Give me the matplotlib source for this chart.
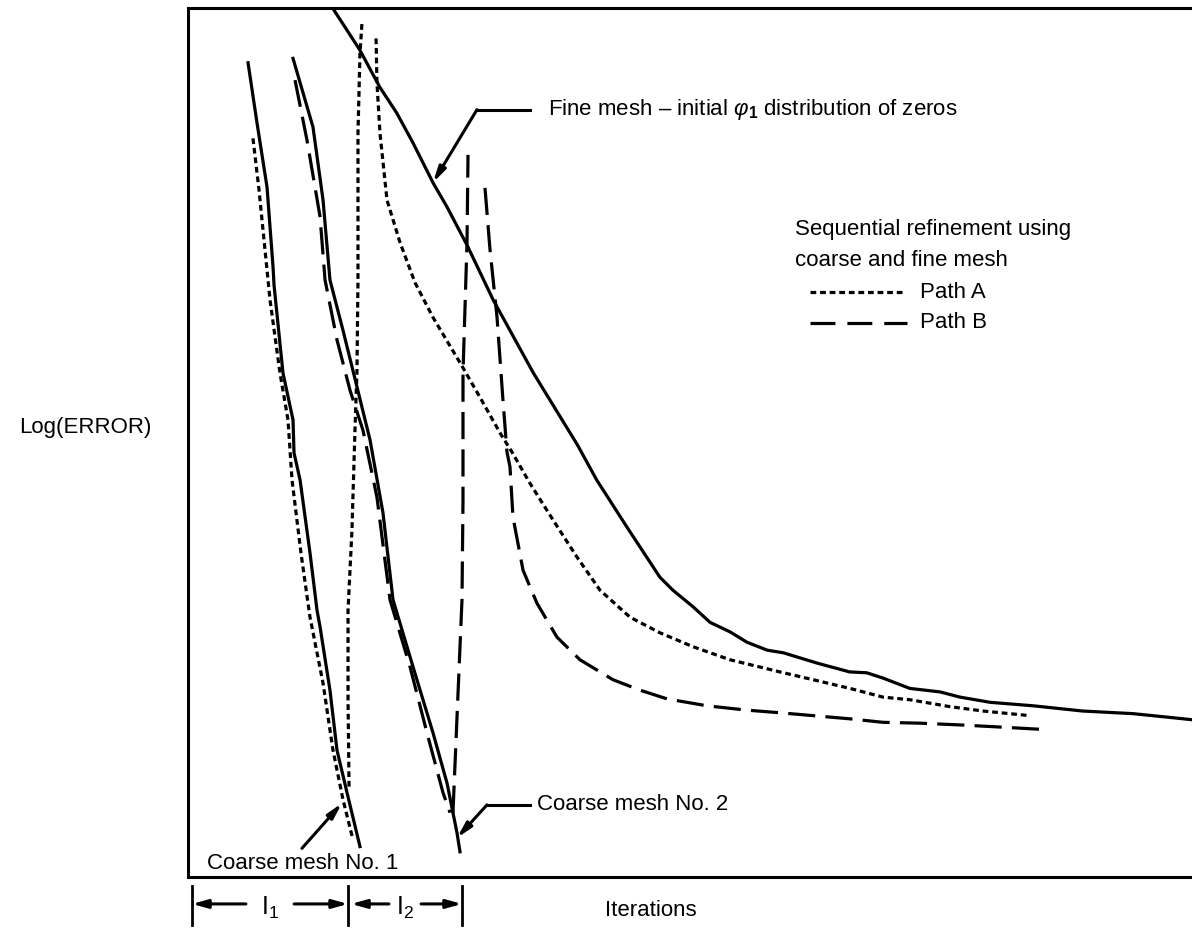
import matplotlib
matplotlib.use('Agg')
import matplotlib.pyplot as plt
import numpy as np

plt.rcParams['font.family'] = ['Liberation Sans', 'DejaVu Sans']
plt.rcParams['mathtext.fontset'] = 'custom'
plt.rcParams['mathtext.rm'] = 'Liberation Sans'
plt.rcParams['mathtext.it'] = 'Liberation Sans:italic'
plt.rcParams['mathtext.bf'] = 'Liberation Sans:bold'
plt.rcParams['lines.solid_joinstyle'] = 'round'
plt.rcParams['lines.dash_joinstyle'] = 'round'

# === DATA (iterations, log error) ===
fine_x = [14.4, 17.1, 19.1, 20.8, 22.4, 24.4, 25.8, 27.8, 30.4, 34.4, 38.8, 40.7, 43.7,
          47.0, 48.3, 50.3, 52.0, 54.0, 55.7, 57.7, 59.3, 62.7, 65.9, 67.6, 69.2, 71.9,
          74.9, 76.9, 79.9, 84.2, 89.1, 94.1, 97.5, 100.0]
fine_y = [10.0, 9.52, 9.09, 8.79, 8.45, 7.99, 7.71, 7.27, 6.64, 5.80, 4.97, 4.57, 4.03,
          3.45, 3.30, 3.11, 2.93, 2.82, 2.70, 2.61, 2.58, 2.46, 2.36, 2.35, 2.29, 2.17,
          2.13, 2.07, 2.01, 1.97, 1.91, 1.88, 1.84, 1.81]

coarse1_x = [5.98, 6.87, 7.87, 8.47, 8.57, 9.46, 10.46, 10.56, 11.16, 12.15, 12.85, 13.15,
             14.14, 14.84, 15.84, 17.13]
coarse1_y = [9.37, 8.68, 7.94, 7.02, 6.81, 5.80, 5.26, 4.88, 4.57, 3.73, 3.07, 2.88,
             2.15, 1.46, 0.97, 0.35]

coarse2_x = [10.46, 12.45, 13.45, 14.14, 15.44, 16.83, 18.13, 19.42, 20.42, 22.41, 24.40,
             25.80, 26.79, 27.09]
coarse2_y = [9.42, 8.63, 7.79, 6.87, 6.29, 5.64, 5.03, 4.19, 3.19, 2.42, 1.66,
             1.08, 0.51, 0.29]

# Path A: coarse mesh No. 1 part, jump to fine mesh, fine mesh part
pa_coarse_x = [6.47, 7.07, 7.77, 8.17, 9.16, 9.96, 10.36, 11.25, 12.15, 13.45, 14.44, 15.44, 16.43]
pa_coarse_y = [8.50, 7.91, 7.10, 6.64, 5.80, 5.26, 4.57, 3.73, 2.99, 2.23, 1.46, 0.89, 0.43]
pa_jump_x = [16.04, 15.94, 15.94, 16.33, 16.63, 16.83, 16.93, 16.93, 16.93, 17.13, 17.33]
pa_jump_y = [1.04, 2.04, 3.07, 3.99, 5.14, 5.83, 6.87, 7.79, 8.56, 9.48, 9.83]
pa_fine_x = [18.73, 18.82, 19.12, 19.82, 21.12, 22.61, 24.40, 27.39, 29.08, 31.08, 32.27,
             34.06, 36.35, 38.75, 41.04, 44.02, 47.01, 50.30, 53.98, 58.96, 65.94, 69.22,
             71.91, 75.90, 79.18, 83.57]
pa_fine_y = [9.65, 9.14, 8.56, 7.79, 7.30, 6.84, 6.44, 5.86, 5.52, 5.11, 4.89,
             4.53, 4.11, 3.68, 3.30, 2.99, 2.81, 2.65, 2.50, 2.36, 2.17, 2.07,
             2.04, 1.96, 1.91, 1.86]

# Path B: coarse mesh No. 2 part, jump, fine mesh part
pb_coarse_x = [10.66, 11.85, 13.15, 13.65, 14.84, 16.14, 17.43, 18.82, 20.12, 22.11, 23.80, 25.40, 26.10]
pb_coarse_y = [9.17, 8.48, 7.60, 6.87, 6.18, 5.60, 5.14, 4.37, 3.19, 2.42, 1.66, 0.97, 0.74]
pb_jump_x = [26.39, 27.29, 27.39, 27.39, 27.39, 27.79, 27.89]
pb_jump_y = [0.74, 3.19, 4.34, 5.34, 5.80, 7.30, 8.31]
pb_fine_x = [29.58, 30.08, 30.78, 31.37, 31.77, 32.07, 32.37, 33.37, 34.76, 36.75, 39.04,
             42.33, 45.02, 47.71, 51.69, 55.68, 58.96, 61.95, 65.94, 69.22, 72.91, 76.89,
             80.18, 84.86]
pb_fine_y = [7.93, 7.22, 6.44, 5.49, 4.89, 4.72, 4.14, 3.53, 3.15, 2.76, 2.50,
             2.27, 2.15, 2.05, 1.97, 1.92, 1.89, 1.86, 1.82, 1.78, 1.77, 1.75,
             1.73, 1.70]

# iteration counts marked under the axis (start, end of I1, end of I2)
i_marks = [0.4, 15.94, 27.29]

# === STYLE ===
LW = 2.3
DOT = (0, (1.8, 1.2))
DASH = (0, (8.5, 3.2))
FS = 16

fig = plt.figure(figsize=(11.92, 9.33), dpi=100)
fig.patch.set_facecolor('white')
ax = fig.add_axes([188 / 1192, 1 - 877 / 933, 1004 / 1192, 869 / 933])
ax.set_xlim(0, 100)
ax.set_ylim(0, 10)
ax.set_xticks([])
ax.set_yticks([])
for s in ['left', 'top', 'bottom']:
    ax.spines[s].set_linewidth(2.2)
ax.spines['right'].set_visible(False)

ax.plot(fine_x, fine_y, color='black', lw=LW)
ax.plot(coarse1_x, coarse1_y, color='black', lw=LW)
ax.plot(coarse2_x, coarse2_y, color='black', lw=LW)

for xs, ys in [(pa_coarse_x, pa_coarse_y), (pa_jump_x, pa_jump_y), (pa_fine_x, pa_fine_y)]:
    ax.plot(xs, ys, color='black', lw=LW, linestyle=DOT)
for xs, ys in [(pb_coarse_x, pb_coarse_y), (pb_jump_x, pb_jump_y), (pb_fine_x, pb_fine_y)]:
    ax.plot(xs, ys, color='black', lw=LW, linestyle=DASH)

arrow = dict(arrowstyle='-|>,head_length=0.9,head_width=0.22', color='black', lw=2.2,
             shrinkA=0, shrinkB=0)

# Fine mesh label with leader
ax.plot([34.06, 28.78], [8.83, 8.83], color='black', lw=2.2)
ax.annotate('', xy=(24.4, 7.99), xytext=(28.78, 8.83), arrowprops=arrow)
ax.text(35.86, 8.83, r'Fine mesh – initial $\varphi_\mathbf{1}$ distribution of zeros',
        fontsize=FS, va='center', ha='left')

# Coarse mesh No. 2
ax.plot([34.06, 29.78], [0.83, 0.83], color='black', lw=2.2)
ax.annotate('', xy=(26.79, 0.45), xytext=(29.78, 0.83), arrowprops=arrow)
ax.text(34.76, 0.83, 'Coarse mesh No. 2', fontsize=FS, va='center', ha='left')

# Coarse mesh No. 1
ax.annotate('', xy=(15.34, 0.85), xytext=(11.35, 0.33), arrowprops=arrow)
ax.text(1.89, 0.16, 'Coarse mesh No. 1', fontsize=FS, va='center', ha='left')

# legend block
ax.text(60.46, 7.45, 'Sequential refinement using', fontsize=FS, va='center')
ax.text(60.46, 7.09, 'coarse and fine mesh', fontsize=FS, va='center')
ax.plot([61.95, 71.4], [6.73, 6.73], color='black', lw=LW, linestyle=DOT)
ax.text(72.9, 6.73, 'Path A', fontsize=FS, va='center')
ax.plot([61.95, 71.6], [6.38, 6.38], color='black', lw=LW, linestyle=(0, (7.8, 3.75)))
ax.text(72.9, 6.38, 'Path B', fontsize=FS, va='center')

# I1 / I2 spans under the axis
y_ar = -0.31
for xm in i_marks:
    ax.plot([xm, xm], [-0.10, -0.55], color='black', lw=2.0, clip_on=False)
seg = dict(arrowstyle='-|>,head_length=0.9,head_width=0.25', color='black', lw=2.2,
           shrinkA=0, shrinkB=0)
mid1 = (i_marks[0] + i_marks[1]) / 2
mid2 = (i_marks[1] + i_marks[2]) / 2
ax.annotate('', xy=(i_marks[0], y_ar), xytext=(mid1 - 2.4, y_ar), arrowprops=seg, annotation_clip=False)
ax.annotate('', xy=(i_marks[1], y_ar), xytext=(mid1 + 2.4, y_ar), arrowprops=seg, annotation_clip=False)
ax.annotate('', xy=(i_marks[1] + 0.3, y_ar), xytext=(mid2 - 1.6, y_ar), arrowprops=seg, annotation_clip=False)
ax.annotate('', xy=(i_marks[2], y_ar), xytext=(mid2 + 1.6, y_ar), arrowprops=seg, annotation_clip=False)
ax.text(mid1, y_ar - 0.05, r'I$_1$', fontsize=FS + 2, ha='center', va='center', clip_on=False)
ax.text(mid2, y_ar - 0.05, r'I$_2$', fontsize=FS + 2, ha='center', va='center', clip_on=False)

fig.text(651 / 1192, 1 - 910 / 933, 'Iterations', fontsize=FS, ha='center', va='center')
fig.text(85 / 1192, 1 - 428 / 933, 'Log(ERROR)', fontsize=FS, ha='center', va='center')

fig.savefig('out.png', dpi=100, facecolor='white')
